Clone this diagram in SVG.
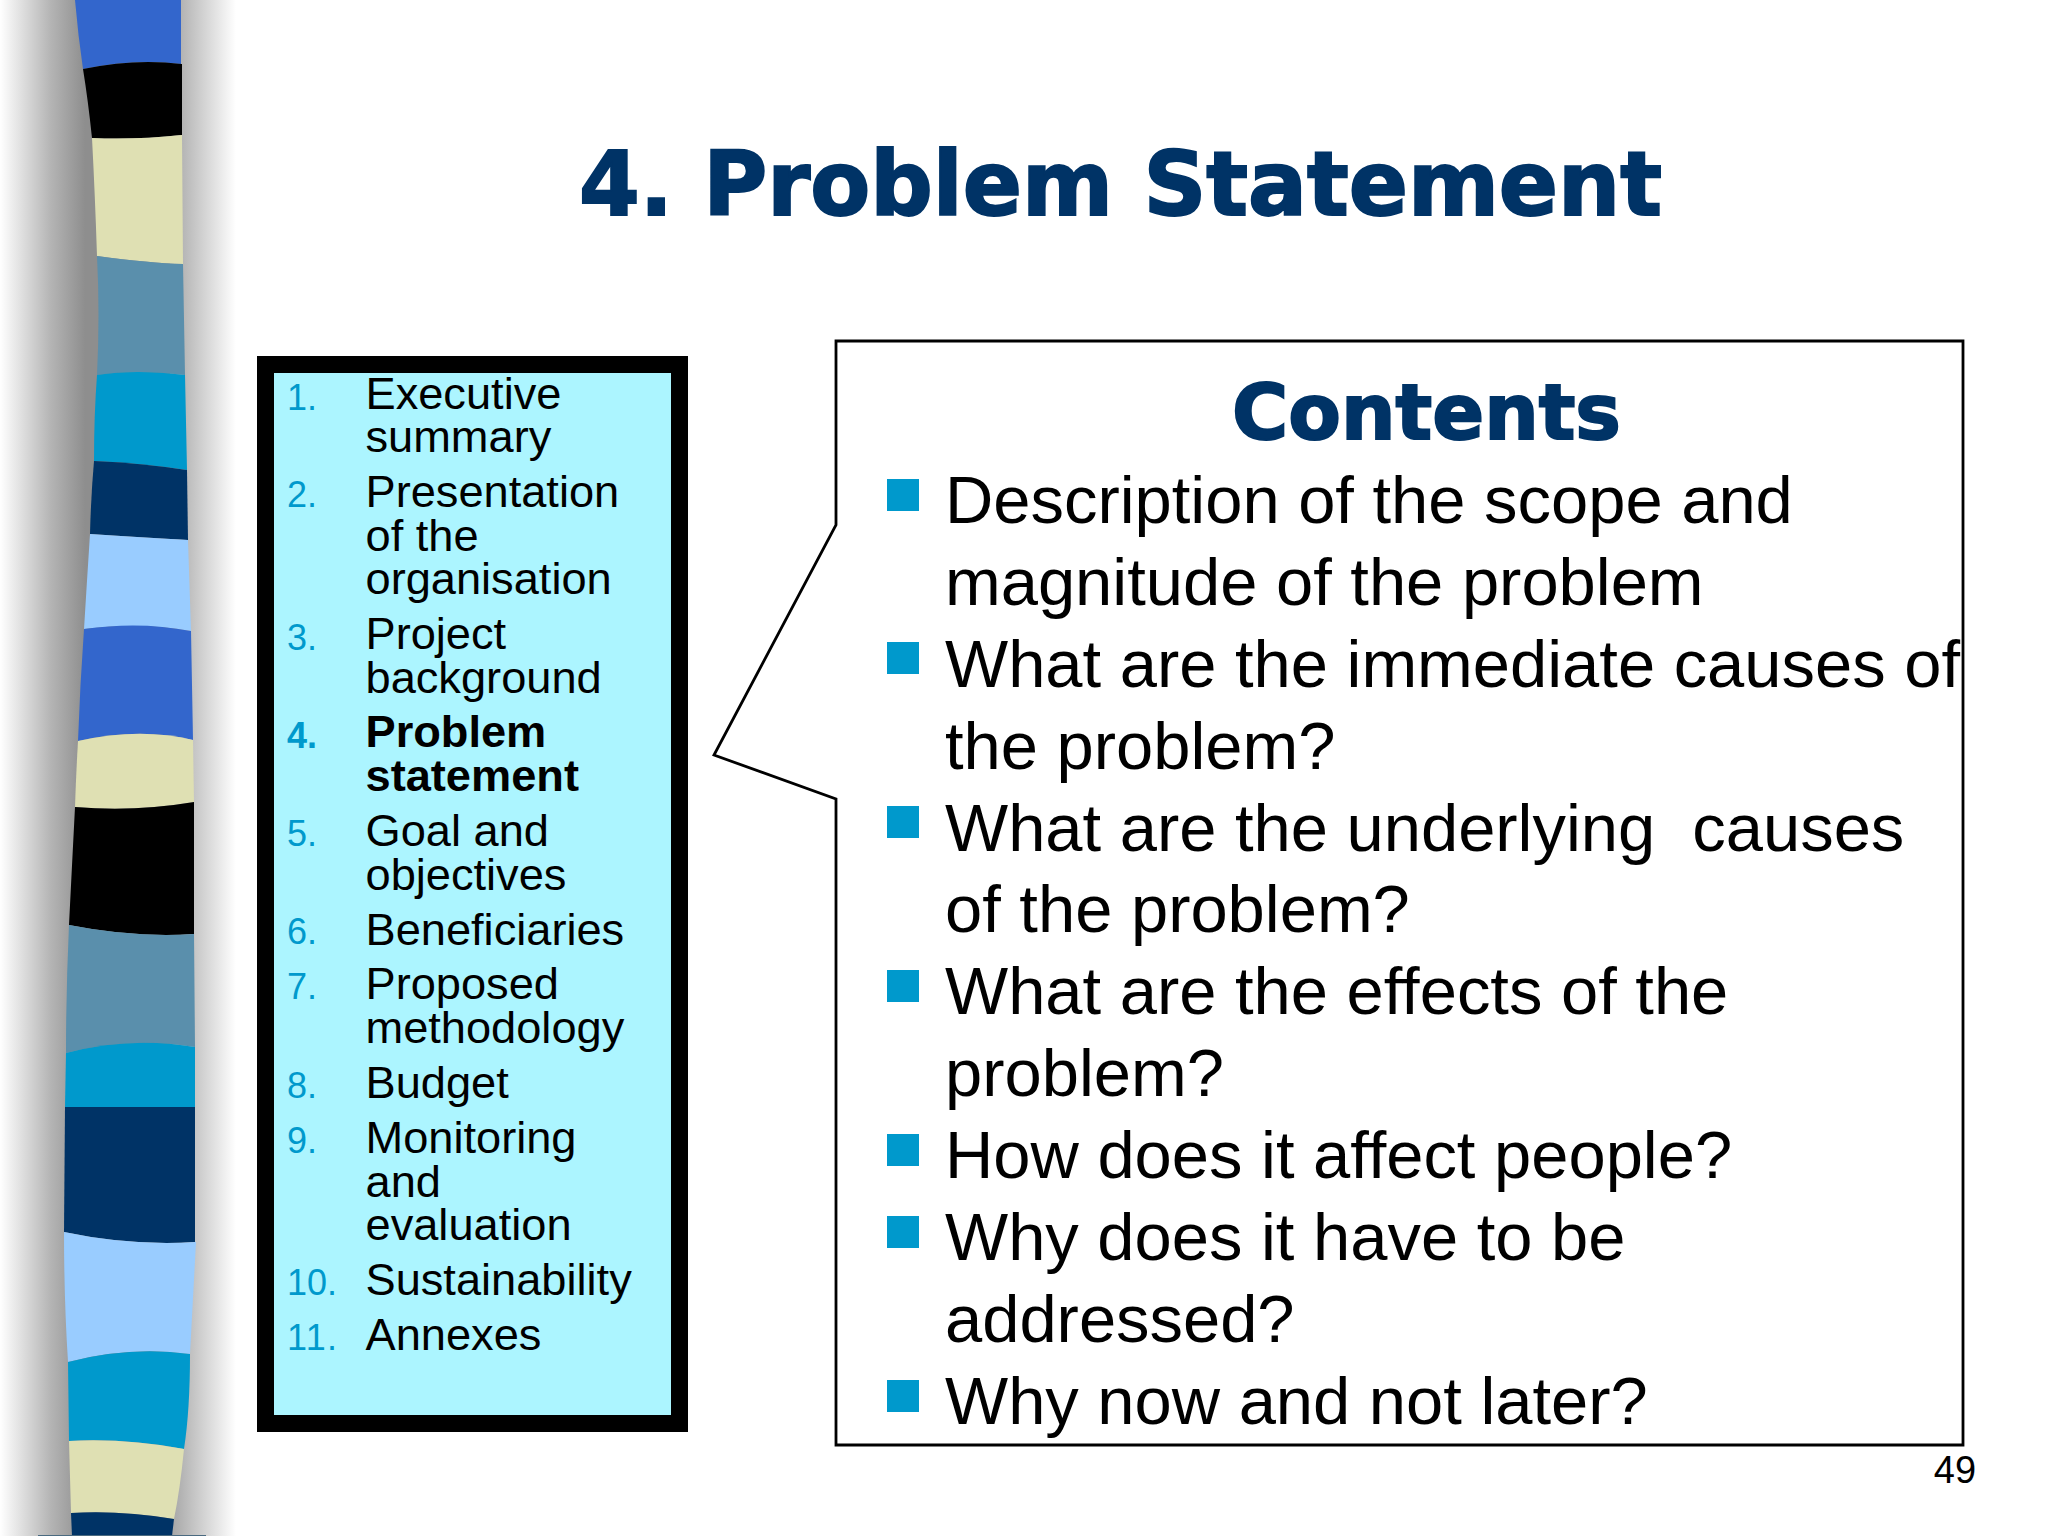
<svg xmlns="http://www.w3.org/2000/svg" width="2048" height="1536" viewBox="0 0 2048 1536">
<style>
.l{font-family:"Liberation Sans",Arial,sans-serif;font-size:45.2px;fill:#000}
.n{font-family:"Liberation Sans",Arial,sans-serif;font-size:36px;fill:#0099cc}
.b{font-family:"Liberation Sans",Arial,sans-serif;font-size:66.9px;fill:#000}
.h{font-family:"DejaVu Sans",Verdana,sans-serif;font-weight:700;fill:#003366;stroke:#003366;stroke-width:2px}
.q{fill:#0099cc}
</style>
<defs>
<linearGradient id="gl" x1="0" x2="1" y1="0" y2="0"><stop offset="0" stop-color="#fff"/><stop offset="0.6" stop-color="#b4b4b4"/><stop offset="1" stop-color="#8e8e8e"/></linearGradient>
<linearGradient id="gr" x1="0" x2="1" y1="0" y2="0"><stop offset="0" stop-color="#a4a4a4"/><stop offset="1" stop-color="#fff"/></linearGradient>
</defs>
<rect width="2048" height="1536" fill="#fff"/>
<g id="band">
<rect x="0" y="0" width="85" height="1536" fill="url(#gl)"/>
<rect x="85" y="0" width="85" height="1536" fill="#8e8e8e"/>
<rect x="170" y="0" width="66" height="1536" fill="url(#gr)"/>
<path fill="#3366cc" d="M75 0H181V64Q135 58 83 69Q78 35 75 0Z"/>
<path fill="#000" d="M83 69Q135 58 182 64V135Q135 140 92 138Q88 100 83 69Z"/>
<path fill="#dfe0b3" d="M92 138Q135 140 182 135L183 264Q150 263 97 256Q95 195 92 138Z"/>
<path fill="#5a8fac" d="M97 256Q150 263 183 264L185 375Q135 369 97 375Q100 315 97 256Z"/>
<path fill="#0099cc" d="M97 375Q135 369 185 375L187 470Q140 463 94 461Q94 415 97 375Z"/>
<path fill="#003366" d="M94 461Q140 463 187 470L188 540Q135 537 90 534Q91 495 94 461Z"/>
<path fill="#99ccff" d="M90 534Q135 537 188 540L191 631Q140 622 84 629Q87 580 90 534Z"/>
<path fill="#3366cc" d="M84 629Q140 621 191 631L193 740Q140 727 78 741Q80 685 84 629Z"/>
<path fill="#dfe0b3" d="M78 741Q140 727 193 740L194 802Q135 812 75 807Q76 775 78 741Z"/>
<path fill="#000" d="M75 807Q135 812 194 802V934Q135 938 69 925Q72 865 75 807Z"/>
<path fill="#5a8fac" d="M69 925Q135 938 194 934L195 1047Q130 1036 66 1053Q66 990 69 925Z"/>
<path fill="#0099cc" d="M66 1053Q130 1036 195 1047V1107H65Z"/>
<path fill="#003366" d="M65 1107H195V1242Q130 1246 64 1232Z"/>
<path fill="#99ccff" d="M64 1232Q130 1246 196 1242L190 1354Q130 1346 68 1362Q64 1300 64 1232Z"/>
<path fill="#0099cc" d="M68 1362Q130 1346 190 1354Q190 1410 184 1449Q125 1438 69 1441Z"/>
<path fill="#dfe0b3" d="M69 1441Q125 1438 184 1449Q180 1490 174 1519Q120 1510 71 1513Z"/>
<path fill="#003366" d="M71 1513Q120 1510 174 1519L172 1536H72Z"/>
<rect x="38" y="1535" width="168" height="1" fill="#4a6a80"/>
</g>
<g id="list-box">
<rect x="265.5" y="364.5" width="414" height="1059" fill="#acf5ff" stroke="#000" stroke-width="17"/>
</g>
<g id="list">
<text class="n" x="287" y="410">1.</text><text class="l" x="365.5" y="409">Executive</text><text class="l" x="365.5" y="452">summary</text>
<text class="n" x="287" y="507">2.</text><text class="l" x="365.5" y="507">Presentation</text><text class="l" x="365.5" y="551">of the</text><text class="l" x="365.5" y="594">organisation</text>
<text class="n" x="287" y="650">3.</text><text class="l" x="365.5" y="649">Project</text><text class="l" x="365.5" y="693">background</text>
<text class="n" x="287" y="748" font-weight="700">4.</text><text class="l" x="365.5" y="747" font-weight="700">Problem</text><text class="l" x="365.5" y="791" font-weight="700">statement</text>
<text class="n" x="287" y="846">5.</text><text class="l" x="365.5" y="846">Goal and</text><text class="l" x="365.5" y="890">objectives</text>
<text class="n" x="287" y="944">6.</text><text class="l" x="365.5" y="945">Beneficiaries</text>
<text class="n" x="287" y="999">7.</text><text class="l" x="365.5" y="999">Proposed</text><text class="l" x="365.5" y="1043">methodology</text>
<text class="n" x="287" y="1098">8.</text><text class="l" x="365.5" y="1098">Budget</text>
<text class="n" x="287" y="1153">9.</text><text class="l" x="365.5" y="1153">Monitoring</text><text class="l" x="365.5" y="1197">and</text><text class="l" x="365.5" y="1240">evaluation</text>
<text class="n" x="287" y="1295">10.</text><text class="l" x="365.5" y="1295">Sustainability</text>
<text class="n" x="287" y="1350" textLength="50">11.</text><text class="l" x="365.5" y="1350">Annexes</text>
</g>
<g id="callout">
<path d="M836 341H1963V1445H836V799L714 755L836 525Z" fill="#fff" stroke="#000" stroke-width="2.8"/>
</g>
<text id="title" class="h" x="579" y="215" font-size="89" textLength="1083" lengthAdjust="spacingAndGlyphs">4. Problem Statement</text>
<text id="contents-title" class="h" x="1232" y="439" font-size="77" textLength="389" lengthAdjust="spacingAndGlyphs">Contents</text>
<g id="bullets">
<rect class="q" x="887" y="479" width="32" height="32"/>
<rect class="q" x="887" y="642" width="32" height="32"/>
<rect class="q" x="887" y="806" width="32" height="32"/>
<rect class="q" x="887" y="970" width="32" height="32"/>
<rect class="q" x="887" y="1134" width="32" height="32"/>
<rect class="q" x="887" y="1216" width="32" height="32"/>
<rect class="q" x="887" y="1380" width="32" height="32"/>
<text class="b" x="945" y="523">Description of the scope and</text>
<text class="b" x="945" y="605">magnitude of the problem</text>
<text class="b" x="945" y="687">What are the immediate causes of</text>
<text class="b" x="945" y="769">the problem?</text>
<text class="b" x="945" y="851" xml:space="preserve">What are the underlying  causes</text>
<text class="b" x="945" y="932">of the problem?</text>
<text class="b" x="945" y="1014">What are the effects of the</text>
<text class="b" x="945" y="1096">problem?</text>
<text class="b" x="945" y="1178">How does it affect people?</text>
<text class="b" x="945" y="1260">Why does it have to be</text>
<text class="b" x="945" y="1342">addressed?</text>
<text class="b" x="945" y="1424">Why now and not later?</text>
</g>
<text id="page" x="1955" y="1483" font-family="'Liberation Sans',Arial,sans-serif" font-size="38" text-anchor="middle" fill="#000">49</text>
</svg>
